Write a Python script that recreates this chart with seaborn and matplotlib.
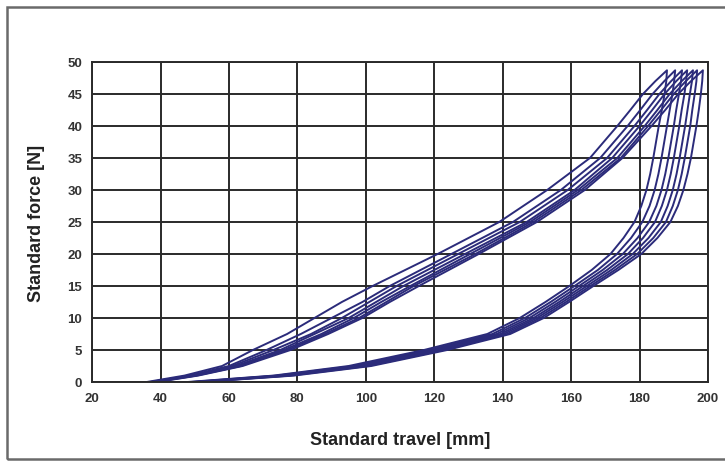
import numpy as np
import pandas as pd
import matplotlib
matplotlib.use("Agg")
import matplotlib.pyplot as plt
import seaborn as sns
from matplotlib.patches import Rectangle

load_force = [0, 1, 2.5, 5, 7.5, 10, 12.5, 15, 20, 25, 30, 35, 40, 42.5, 45, 47, 48.7]
unload_force = [48.7, 47, 45, 42.5, 40, 37.5, 35, 32.5, 30, 27.5, 25, 22.5, 20, 17.5,
                15, 12.5, 10, 7.5, 5, 2.5, 1, 0]

# Travel (mm) for each cycle, loading branch
load_c0 = [36, 47, 58, 67, 77, 85, 93, 102, 121, 139, 153, 165.5, 173.5, 177.3, 181.0, 184.6, 188.0]
load_c1 = [37, 48.5, 60, 71, 81, 90, 99, 107, 125, 143, 157, 168.5, 176.5, 180.2, 183.8, 187.2, 190.4]
load_c2 = [37.5, 49, 61, 73, 84, 93, 101, 109, 127, 145, 159, 170.5, 178.5, 182.2, 185.8, 189.2, 192.4]
load_c3 = [38, 49.5, 62, 75, 85, 95, 103, 111, 129, 147, 161, 172, 180, 183.7, 187.3, 190.7, 193.9]
load_c4 = [38, 50, 63, 76, 87, 96.5, 104.5, 113, 130.5, 148, 162, 173.5, 181.5, 185.2, 188.8, 192.3, 195.6]
load_c5 = [38.5, 50.5, 63.5, 77, 88, 98, 106, 114, 132, 149, 163, 174.5, 182.5, 186.3, 190.0, 193.5, 196.8]
load_c6 = [39, 51, 64, 78, 89, 99, 107, 115.5, 133, 150, 164, 175, 183.5, 187.5, 191.3, 195.0, 198.5]

# Travel (mm) for each cycle, unloading branch
unload_c0 = [188.0, 187.8, 187.3, 186.5, 185.6, 184.8, 184.0, 183.1, 182.0, 180.5, 178.5, 175.3,
             171.5, 166.0, 159.5, 152.5, 145.0, 135.5, 117.0, 95.0, 73.0, 48.0]
unload_c1 = [190.4, 190.1, 189.6, 188.8, 188.0, 187.2, 186.4, 185.5, 184.4, 182.9, 180.8, 177.5,
             173.4, 167.8, 161.0, 154.0, 146.5, 137.0, 118.5, 96.5, 74.0, 49.0]
unload_c2 = [192.4, 192.1, 191.5, 190.7, 190.0, 189.2, 188.4, 187.5, 186.4, 184.9, 182.8, 179.4,
             175.1, 169.2, 162.3, 155.3, 147.8, 138.2, 119.8, 97.6, 75.0, 50.0]
unload_c3 = [193.9, 193.6, 193.1, 192.3, 191.6, 190.8, 190.0, 189.1, 188.0, 186.5, 184.5, 181.0,
             176.6, 170.5, 163.5, 156.5, 149.0, 139.3, 120.8, 98.6, 76.0, 50.5]
unload_c4 = [195.6, 195.3, 194.7, 194.0, 193.3, 192.5, 191.7, 190.8, 189.7, 188.2, 186.2, 182.6,
             178.0, 171.7, 164.6, 157.5, 150.0, 140.3, 121.8, 99.6, 77.0, 51.0]
unload_c5 = [196.8, 196.6, 196.1, 195.4, 194.8, 194.0, 193.2, 192.3, 191.2, 189.7, 187.7, 184.0,
             179.3, 172.8, 165.6, 158.5, 151.0, 141.3, 122.8, 100.6, 78.0, 51.5]
unload_c6 = [198.5, 198.3, 197.9, 197.3, 196.6, 195.8, 195.0, 194.0, 192.8, 191.2, 189.0, 185.2,
             180.5, 173.8, 166.5, 159.4, 152.0, 142.2, 123.8, 101.6, 79.0, 52.0]

x_ticks = [20, 40, 60, 80, 100, 120, 140, 160, 180, 200]
y_ticks = [0, 5, 10, 15, 20, 25, 30, 35, 40, 45, 50]

loads = [load_c0, load_c1, load_c2, load_c3, load_c4, load_c5, load_c6]
unloads = [unload_c0, unload_c1, unload_c2, unload_c3, unload_c4, unload_c5, unload_c6]

rows = []
for c, (ld, ul) in enumerate(zip(loads, unloads)):
    order = 0
    for x, f in zip(ld, load_force):
        rows.append((c, order, x, f)); order += 1
    for x, f in zip(ul[1:], unload_force[1:]):
        rows.append((c, order, x, f)); order += 1
    rows.append((c, order, ld[0], 0.0))
df = pd.DataFrame(rows, columns=["cycle", "order", "travel", "force"])

sns.set_theme(style="white")
plt.rcParams['font.family'] = ['Liberation Sans', 'DejaVu Sans']

fig = plt.figure(figsize=(7.25, 4.64), dpi=100)
ax = fig.add_axes([0.127, 0.1746, 0.8496, 0.6897])

sns.lineplot(data=df, x="travel", y="force", units="cycle", estimator=None,
             sort=False, color="#2b2b7a", linewidth=1.4, ax=ax)

ax.set_xlim(20, 200)
ax.set_ylim(0, 50)
ax.set_xticks(x_ticks)
ax.set_yticks(y_ticks)
ax.grid(True, color="#2a2a2a", linewidth=1.4)
ax.set_axisbelow(True)
for s in ax.spines.values():
    s.set_color("#2a2a2a")
    s.set_linewidth(1.4)
ax.tick_params(axis="both", direction="inout", length=6, width=1.2, color="#2a2a2a",
               labelsize=9.5, labelcolor="#333333", pad=4)
for lab in ax.get_xticklabels() + ax.get_yticklabels():
    lab.set_fontweight("bold")
ax.set_xlabel("Standard travel [mm]", fontsize=13, fontweight="bold", color="#222222", labelpad=20)
ax.set_ylabel("Standard force [N]", fontsize=13, fontweight="bold", color="#222222", labelpad=16)

fig.patches.append(Rectangle((7 / 725, 1 - 460 / 464), 1.0, (460 - 8) / 464,
                             transform=fig.transFigure, fill=False,
                             edgecolor="#6a6a6a", linewidth=1.8))

fig.savefig("out.png", dpi=100)
